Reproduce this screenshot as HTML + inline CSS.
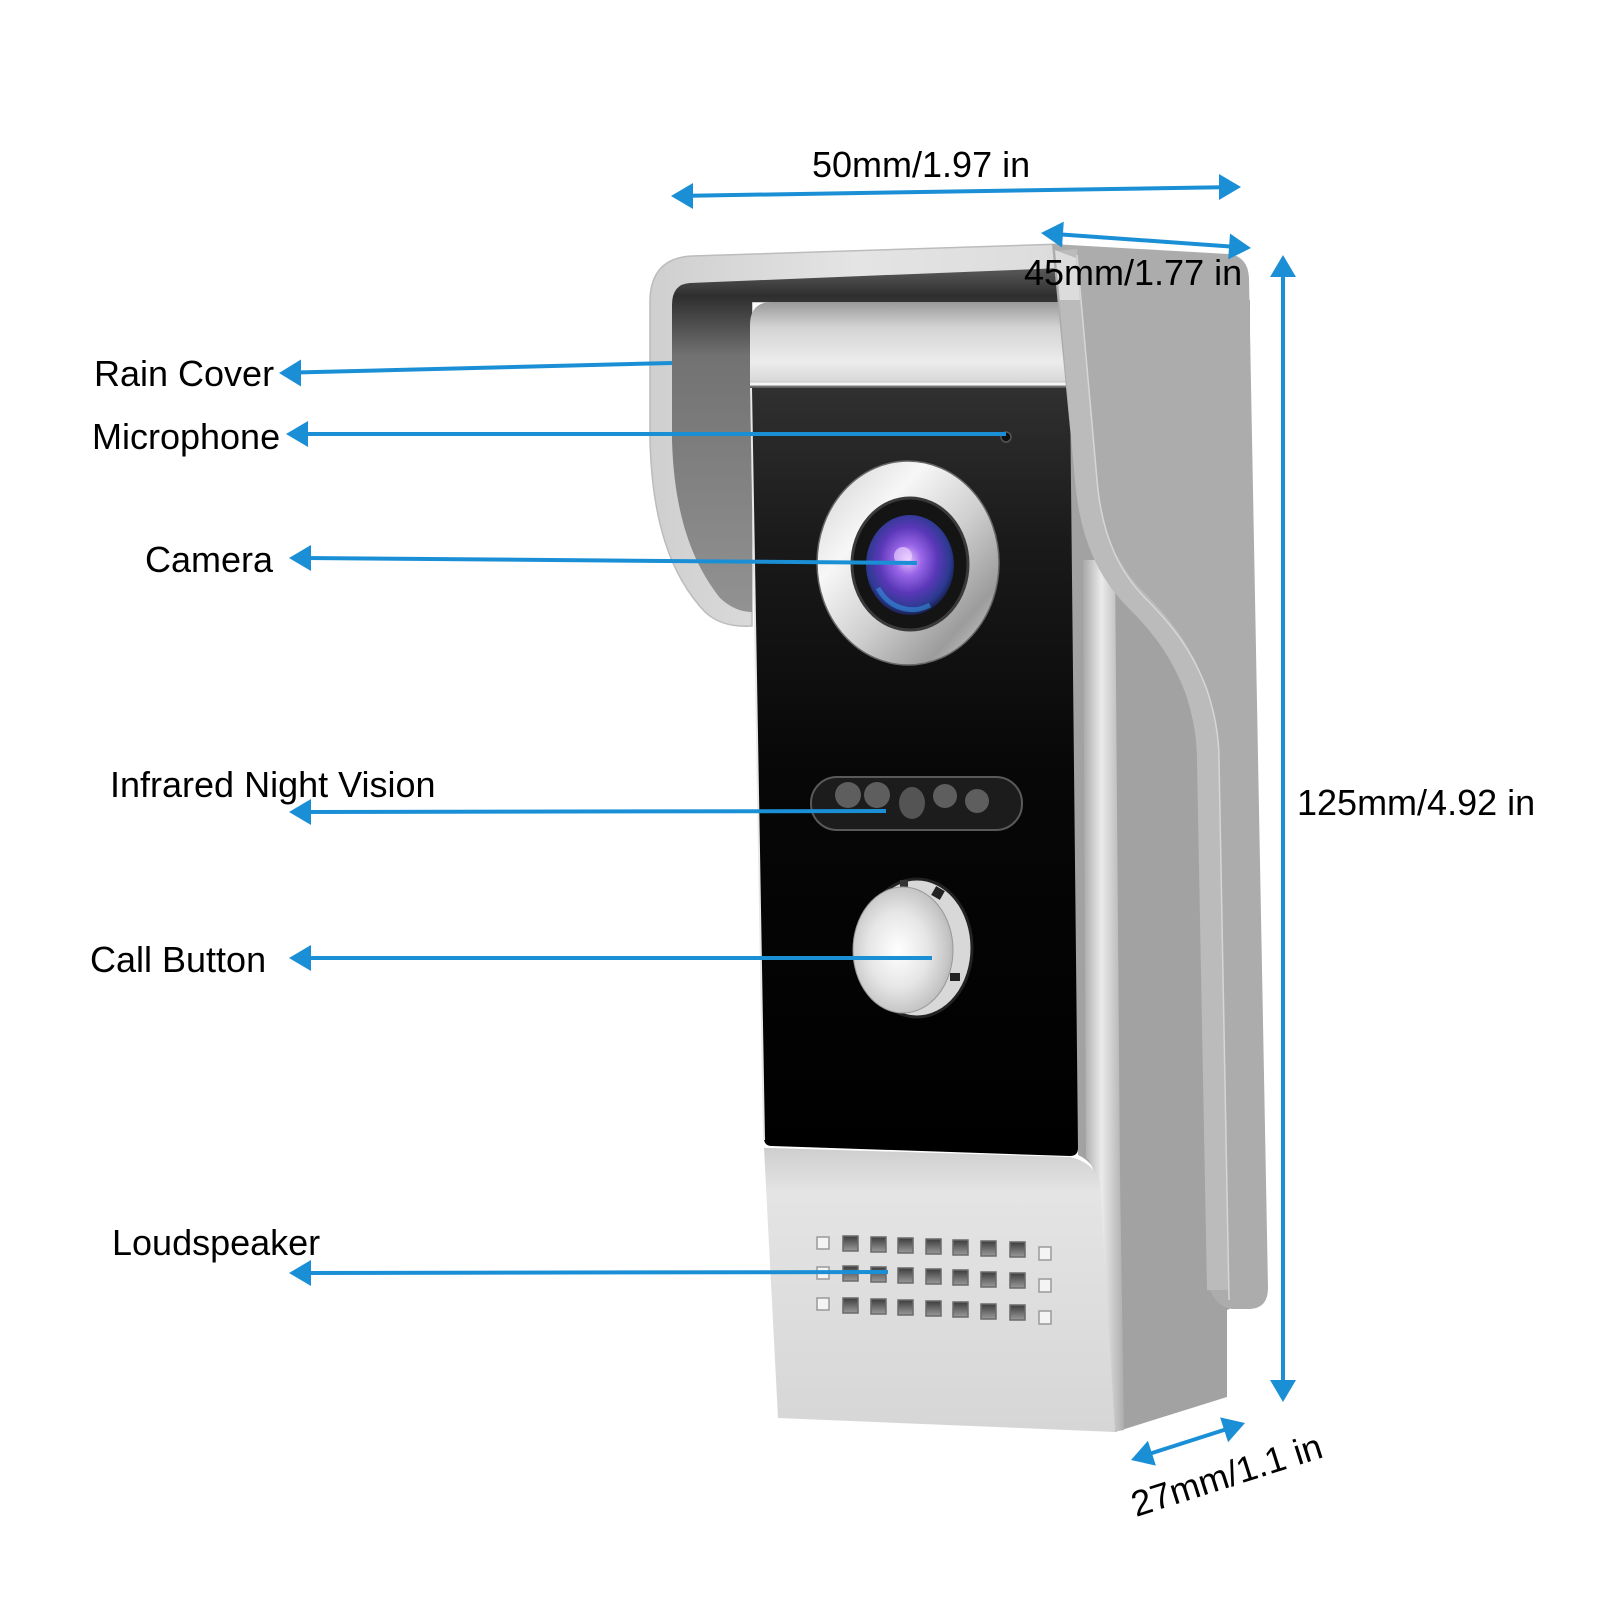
<!DOCTYPE html>
<html><head><meta charset="utf-8">
<style>html,body{margin:0;padding:0;background:#fff;}svg{display:block;}</style></head>
<body>
<svg width="1601" height="1601" viewBox="0 0 1601 1601" xmlns="http://www.w3.org/2000/svg">
<defs>
  <linearGradient id="hoodRim" x1="0" y1="0" x2="1" y2="0">
    <stop offset="0" stop-color="#cfcfcf"/><stop offset="0.5" stop-color="#e4e4e4"/><stop offset="1" stop-color="#dcdcdc"/>
  </linearGradient>
  <linearGradient id="hoodIn" gradientUnits="userSpaceOnUse" x1="0" y1="268" x2="0" y2="620">
    <stop offset="0" stop-color="#5a5a5a"/><stop offset="0.08" stop-color="#2e2e2e"/><stop offset="0.25" stop-color="#727272"/><stop offset="1" stop-color="#939393"/>
  </linearGradient>
  <linearGradient id="cap" gradientUnits="userSpaceOnUse" x1="0" y1="302" x2="0" y2="388">
    <stop offset="0" stop-color="#9a9a9a"/><stop offset="0.3" stop-color="#d4d4d4"/><stop offset="0.7" stop-color="#ececec"/><stop offset="0.92" stop-color="#d8d8d8"/><stop offset="1" stop-color="#555"/>
  </linearGradient>
  <linearGradient id="panel" gradientUnits="userSpaceOnUse" x1="0" y1="388" x2="0" y2="1156">
    <stop offset="0" stop-color="#303030"/><stop offset="0.2" stop-color="#1a1a1a"/><stop offset="0.5" stop-color="#070707"/><stop offset="1" stop-color="#000"/>
  </linearGradient>
  <linearGradient id="lower" gradientUnits="userSpaceOnUse" x1="0" y1="1150" x2="0" y2="1432">
    <stop offset="0" stop-color="#cfcfcf"/><stop offset="0.15" stop-color="#e4e4e4"/><stop offset="1" stop-color="#d6d6d6"/>
  </linearGradient>
  <linearGradient id="stripe" x1="0" y1="0" x2="1" y2="0">
    <stop offset="0" stop-color="#a8a8a8"/><stop offset="0.45" stop-color="#ebebeb"/><stop offset="1" stop-color="#adadad"/>
  </linearGradient>
  <linearGradient id="ring" x1="0" y1="0" x2="1" y2="1">
    <stop offset="0" stop-color="#cfcfcf"/><stop offset="0.3" stop-color="#f7f7f7"/><stop offset="0.55" stop-color="#d0d0d0"/><stop offset="0.8" stop-color="#9c9c9c"/><stop offset="1" stop-color="#dedede"/>
  </linearGradient>
  <radialGradient id="lens" cx="0.48" cy="0.45" r="0.6">
    <stop offset="0" stop-color="#e4c2ff"/><stop offset="0.25" stop-color="#9a66e8"/><stop offset="0.55" stop-color="#5a38b8"/><stop offset="0.8" stop-color="#2b3a90"/><stop offset="1" stop-color="#0d0d22"/>
  </radialGradient>
  <radialGradient id="btn" cx="0.45" cy="0.5" r="0.6">
    <stop offset="0" stop-color="#ffffff"/><stop offset="0.5" stop-color="#e6e6e6"/><stop offset="0.85" stop-color="#c4c4c4"/><stop offset="1" stop-color="#a8a8a8"/>
  </radialGradient>
  <linearGradient id="hole" x1="0" y1="0" x2="0" y2="1">
    <stop offset="0" stop-color="#3c3c3c"/><stop offset="1" stop-color="#9a9a9a"/>
  </linearGradient>
</defs>
<rect width="1601" height="1601" fill="#fff"/>

<!-- body side -->
<path d="M1060,300 L1250,300 L1250,1300 L1227,1310 L1227,1397 L1115,1432 L1100,1185 Q1096,1163 1078,1155 Z" fill="#a2a2a2"/>
<path d="M1083,560 L1115,560 L1120,1175 L1124,1430 L1112,1432 L1096,1180 Q1092,1162 1086,1158 Z" fill="url(#stripe)"/>

<!-- hood -->
<path d="M1062,244 L692,256 Q651,258 650,300 L650,440 C652,520 670,575 705,612 Q722,628 752,626 L752,302 L1062,302 Z" fill="url(#hoodRim)" stroke="#bcbcbc" stroke-width="1.5"/>
<path d="M1062,268 L690,283 Q672,284 672,305 L672,440 C674,510 690,560 720,598 Q735,612 752,612 L752,302 L1062,302 Z" fill="url(#hoodIn)"/>

<!-- body cap -->
<path d="M750,325 Q750,302 772,302 L1062,302 L1066,388 L750,388 Z" fill="url(#cap)"/>
<line x1="750" y1="384" x2="1066" y2="384" stroke="#f4f4f4" stroke-width="3"/>

<!-- black panel -->
<path d="M750,388 L1070,388 L1078,1148 Q1078,1156 1070,1156 L772,1146 Q764,1146 764,1138 Z" fill="url(#panel)"/>
<line x1="751" y1="388" x2="764" y2="1140" stroke="#e8e8e8" stroke-width="2"/>

<!-- lower front -->
<path d="M764,1148 L772,1148 L1070,1157 Q1096,1163 1100,1185 L1115,1432 L778,1418 Z" fill="url(#lower)"/>

<!-- wing -->
<path d="M1052,244 L1228,254 Q1248,256 1249,278 L1268,1288 Q1268,1308 1250,1309 L1232,1309 Q1210,1305 1207,1275 L1197,760 C1197,745 1195,720 1185,690 C1170,650 1150,625 1125,600 C1100,575 1080,540 1075,480 Z" fill="#acacac"/>
<path d="M1066,250 L1086,480 C1091,540 1111,575 1136,600 C1161,625 1181,650 1196,690 C1206,720 1208,745 1208,760 L1218,1290" fill="none" stroke="#bbbbbb" stroke-width="22"/>
<path d="M1077,255 L1097,480 C1102,540 1122,575 1147,600 C1172,625 1192,650 1207,690 C1217,720 1219,745 1219,760 L1229,1300" fill="none" stroke="#d6d6d6" stroke-width="1.5"/>
<path d="M1055,250 L1076,258 L1080,300 L1060,300 Z" fill="#dcdcdc"/>

<!-- mic -->
<circle cx="1006" cy="437" r="5" fill="#111" stroke="#555" stroke-width="1.5"/>

<!-- camera -->
<ellipse cx="908" cy="563" rx="91" ry="102" fill="url(#ring)" stroke="#666" stroke-width="1.5"/>
<ellipse cx="910" cy="564" rx="58" ry="66" fill="#141414" stroke="#3a3a3a" stroke-width="3"/>
<ellipse cx="910" cy="565" rx="44" ry="50" fill="url(#lens)"/>
<path d="M878,588 A40,45 0 0 0 930,605" fill="none" stroke="#3ab0ff" stroke-width="5" opacity="0.45"/>
<circle cx="903" cy="556" r="9" fill="#f2dcff" opacity="0.6"/>

<!-- IR strip -->
<rect x="811" y="777" width="211" height="53" rx="26" fill="#1c1c1c" stroke="#595959" stroke-width="2"/>
<circle cx="848" cy="795" r="13" fill="#5e5e5e"/>
<circle cx="877" cy="795" r="13" fill="#5e5e5e"/>
<ellipse cx="912" cy="803" rx="13" ry="16" fill="#545454"/>
<circle cx="945" cy="796" r="12" fill="#5e5e5e"/>
<circle cx="977" cy="801" r="12" fill="#5e5e5e"/>

<!-- call button -->
<ellipse cx="917" cy="948" rx="55" ry="69" fill="#d8d8d8" stroke="#222" stroke-width="3"/>
<rect x="900" y="880" width="8" height="7" fill="#333"/>
<rect x="933" y="888" width="10" height="10" fill="#222" transform="rotate(30 938 893)"/>
<rect x="950" y="973" width="10" height="8" fill="#222"/>
<ellipse cx="903" cy="950" rx="50" ry="63" fill="url(#btn)" stroke="#999" stroke-width="1"/>

<!-- speaker grille -->
<g>
<rect x="817" y="1237" width="12" height="12" fill="#f4f4f4" stroke="#9a9a9a" stroke-width="1.5"/>
<rect x="817" y="1267" width="12" height="12" fill="#f4f4f4" stroke="#9a9a9a" stroke-width="1.5"/>
<rect x="817" y="1298" width="12" height="12" fill="#f4f4f4" stroke="#9a9a9a" stroke-width="1.5"/>
<rect x="1039" y="1247" width="12" height="13" fill="#f4f4f4" stroke="#9a9a9a" stroke-width="1.5"/>
<rect x="1039" y="1279" width="12" height="13" fill="#f4f4f4" stroke="#9a9a9a" stroke-width="1.5"/>
<rect x="1039" y="1311" width="12" height="13" fill="#f4f4f4" stroke="#9a9a9a" stroke-width="1.5"/>
<g fill="url(#hole)" stroke="#6a6a6a" stroke-width="1.5">
<rect x="843" y="1236" width="15" height="15"/><rect x="871" y="1237" width="15" height="15"/><rect x="898" y="1238" width="15" height="15"/><rect x="926" y="1239" width="15" height="15"/><rect x="953" y="1240" width="15" height="15"/><rect x="981" y="1241" width="15" height="15"/><rect x="1010" y="1242" width="15" height="15"/>
<rect x="843" y="1266" width="15" height="15"/><rect x="871" y="1267" width="15" height="15"/><rect x="898" y="1268" width="15" height="15"/><rect x="926" y="1269" width="15" height="15"/><rect x="953" y="1270" width="15" height="15"/><rect x="981" y="1272" width="15" height="15"/><rect x="1010" y="1273" width="15" height="15"/>
<rect x="843" y="1298" width="15" height="15"/><rect x="871" y="1299" width="15" height="15"/><rect x="898" y="1300" width="15" height="15"/><rect x="926" y="1301" width="15" height="15"/><rect x="953" y="1302" width="15" height="15"/><rect x="981" y="1304" width="15" height="15"/><rect x="1010" y="1305" width="15" height="15"/>
</g>
</g>

<!-- arrows -->
<g stroke="#1b8fd6" stroke-width="4" fill="none" stroke-linecap="butt">
<line x1="296" y1="372.5" x2="672" y2="363"/>
<line x1="302" y1="434" x2="1006" y2="434"/>
<line x1="305" y1="558" x2="917" y2="563"/>
<line x1="305" y1="812" x2="886" y2="811"/>
<line x1="305" y1="958" x2="932" y2="958"/>
<line x1="305" y1="1273" x2="888" y2="1272"/>
<line x1="690" y1="195.7" x2="1222" y2="187.3"/>
<line x1="1060" y1="234.4" x2="1232" y2="246.6"/>
<line x1="1283" y1="272" x2="1283" y2="1385"/>
<line x1="1149" y1="1454" x2="1227" y2="1429"/>
</g>
<g fill="#1b8fd6">
<polygon points="279,373 301,359.5 301,386.5"/>
<polygon points="286,434 308,421 308,447"/>
<polygon points="289,558 311,545 311,571"/>
<polygon points="289,812 311,799 311,825"/>
<polygon points="289,958 311,945 311,971"/>
<polygon points="289,1273 311,1260 311,1286"/>
<polygon points="671,196 693,183 693,209"/>
<polygon points="1241,187 1219,174 1219,200"/>
<polygon points="1041,233 1063.8,221.6 1062,247.5"/>
<polygon points="1251,248 1230,233.5 1228.2,259.4"/>
<polygon points="1283,255 1270,277 1296,277"/>
<polygon points="1283,1402 1270,1380 1296,1380"/>
<polygon points="1131,1460 1147.9,1440.8 1155.9,1465.6"/>
<polygon points="1245,1423 1220.1,1417.4 1228.1,1442.2"/>
</g>

<!-- text -->
<g font-family="'Liberation Sans', Arial, sans-serif" font-size="36" fill="#000">
<text x="812" y="177">50mm/1.97 in</text>
<text x="1024" y="285">45mm/1.77 in</text>
<text x="1297" y="815">125mm/4.92 in</text>
<text transform="translate(1136,1517) rotate(-17.7)">27mm/1.1 in</text>
<text x="94" y="386">Rain Cover</text>
<text x="92" y="449">Microphone</text>
<text x="145" y="572">Camera</text>
<text x="110" y="797">Infrared Night Vision</text>
<text x="90" y="972">Call Button</text>
<text x="112" y="1255">Loudspeaker</text>
</g>
</svg>
</body></html>
